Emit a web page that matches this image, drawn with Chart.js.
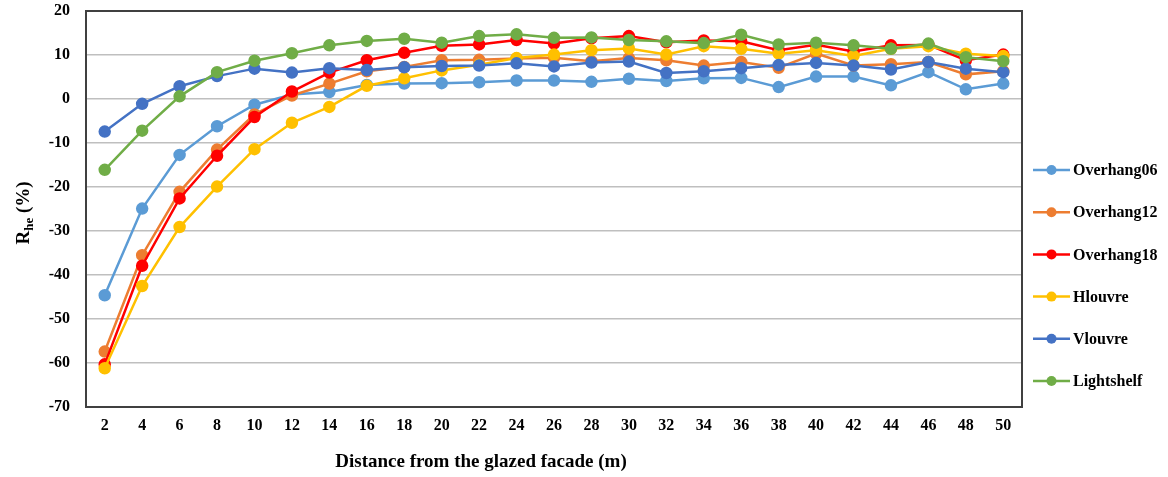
<!DOCTYPE html>
<html>
<head>
<meta charset="utf-8">
<script src="https://cdn.jsdelivr.net/npm/chart.js@4.4.1/dist/chart.umd.min.js"></script>
<style>
  html, body { margin: 0; padding: 0; background: #ffffff; }
  #wrap { width: 1168px; height: 477px; position: relative; }
</style>
</head>
<body>
<div id="wrap"><canvas id="c" width="1168" height="477"></canvas></div>
<script>
const categories = ['2','4','6','8','10','12','14','16','18','20','22','24','26','28','30','32','34','36','38','40','42','44','46','48','50'];
const seriesNames = ['Overhang06','Overhang12','Overhang18','Hlouvre','Vlouvre','Lightshelf'];
const overhang06 = [-44.6,-24.9,-12.7,-6.2,-1.3,1.0,1.6,3.2,3.5,3.6,3.8,4.2,4.2,3.9,4.6,4.1,4.7,4.8,2.7,5.1,5.1,3.1,6.1,2.2,3.5];
const overhang12 = [-57.4,-35.5,-21.1,-11.5,-3.5,0.8,3.5,6.3,7.3,8.8,8.9,9.2,9.4,8.6,9.3,8.8,7.6,8.4,7.1,10.3,7.6,7.9,8.4,5.6,6.3];
const overhang18 = [-60.3,-37.9,-22.6,-12.9,-4.1,1.7,6.0,8.8,10.5,12.1,12.4,13.4,12.6,13.8,14.3,12.9,13.3,13.1,11.1,12.3,10.8,12.2,12.3,8.8,10.1];
const hlouvre    = [-61.2,-42.5,-29.1,-19.9,-11.4,-5.4,-1.8,3.0,4.7,6.5,7.8,9.3,10.1,11.1,11.5,10.1,12.0,11.4,10.3,11.1,9.8,11.4,12.0,10.3,9.8];
const vlouvre    = [-7.4,-1.1,2.9,5.2,6.9,6.0,7.0,6.6,7.2,7.5,7.6,8.1,7.4,8.3,8.5,5.9,6.3,7.0,7.7,8.2,7.6,6.7,8.4,6.9,6.1];
const lightshelf = [-16.1,-7.2,0.6,6.1,8.7,10.4,12.2,13.2,13.7,12.8,14.3,14.7,13.9,14.0,13.4,13.1,12.7,14.6,12.4,12.8,12.2,11.4,12.6,9.5,8.6];
const yTicks = [20,10,0,-10,-20,-30,-40,-50,-60,-70];
const xTitle = 'Distance from the glazed facade (m)';

const colors = ['#5B9BD5','#ED7D31','#FF0000','#FFC000','#4472C4','#70AD47'];
const allData = [overhang06, overhang12, overhang18, hlouvre, vlouvre, lightshelf];
const SERIF = '"Liberation Serif", "Times New Roman", serif';

const datasets = allData.map((d, i) => ({
  label: seriesNames[i],
  data: d,
  borderColor: colors[i],
  backgroundColor: colors[i],
  pointBackgroundColor: colors[i],
  pointBorderColor: colors[i],
  borderWidth: 2.5,
  pointRadius: 5,
  pointHoverRadius: 5,
  tension: 0,
  order: 6 - i
}));

const decorPlugin = {
  id: 'decor',
  beforeDatasetsDraw(chart) {
    const a = chart.chartArea, ctx = chart.ctx;
    ctx.save();
    ctx.strokeStyle = '#404040';
    ctx.lineWidth = 2;
    ctx.strokeRect(a.left, a.top, a.right - a.left, a.bottom - a.top);
    ctx.restore();
  },
  afterDraw(chart) {
    const ctx = chart.ctx;
    ctx.save();
    ctx.translate(22, 213);
    ctx.rotate(-Math.PI / 2);
    ctx.fillStyle = '#000';
    ctx.textBaseline = 'alphabetic';
    const big = 'bold 19px ' + SERIF, small = 'bold 13px ' + SERIF;
    ctx.font = big; const wR = ctx.measureText('R').width;
    ctx.font = small; const wS = ctx.measureText('he').width;
    ctx.font = big; const wP = ctx.measureText(' (%)').width;
    let x = -(wR + wS + wP) / 2;
    const base = 7;
    ctx.font = big; ctx.fillText('R', x, base); x += wR;
    ctx.font = small; ctx.fillText('he', x, base + 4); x += wS;
    ctx.font = big; ctx.fillText(' (%)', x, base);
    ctx.restore();

    ctx.save();
    ctx.fillStyle = '#000';
    ctx.font = 'bold 19px ' + SERIF;
    ctx.textAlign = 'center';
    ctx.textBaseline = 'middle';
    ctx.fillText(xTitle, 481, 462);
    ctx.restore();

    ctx.save();
    const y0 = 170, dy = 42.2;
    chart.data.datasets.forEach((ds, i) => {
      const y = y0 + i * dy;
      ctx.strokeStyle = ds.borderColor;
      ctx.lineWidth = 2.5;
      ctx.beginPath(); ctx.moveTo(1033, y); ctx.lineTo(1070, y); ctx.stroke();
      ctx.fillStyle = ds.borderColor;
      ctx.beginPath(); ctx.arc(1051.5, y, 5, 0, Math.PI * 2); ctx.fill();
      ctx.fillStyle = '#000';
      ctx.font = 'bold 16px ' + SERIF;
      ctx.textAlign = 'left';
      ctx.textBaseline = 'middle';
      ctx.fillText(ds.label, 1073, y + 1);
    });
    ctx.restore();
  }
};

new Chart(document.getElementById('c'), {
  type: 'line',
  data: { labels: categories, datasets: datasets },
  options: {
    responsive: false,
    animation: false,
    devicePixelRatio: 1,
    layout: { padding: { left: 0, top: 11, right: 146, bottom: 0 } },
    plugins: { legend: { display: false }, tooltip: { enabled: false } },
    scales: {
      x: {
        offset: true,
        grid: { display: false, drawTicks: false },
        border: { display: false },
        ticks: { color: '#000', font: { family: SERIF, size: 16, weight: 'bold' }, padding: 9, maxRotation: 0, autoSkip: false },
        afterFit(s) { s.height = 70; }
      },
      y: {
        min: -70, max: 20,
        afterBuildTicks(s) { s.ticks = yTicks.map(v => ({ value: v })); },
        grid: {
          drawTicks: false,
          color: ctx => (ctx.tick && (ctx.tick.value === 20 || ctx.tick.value === -70)) ? 'rgba(0,0,0,0)' : '#BFBFBF',
          lineWidth: 1.5
        },
        border: { display: false },
        ticks: { color: '#000', font: { family: SERIF, size: 16, weight: 'bold' }, padding: 16, stepSize: 10 },
        afterFit(s) { s.width = 86; s.paddingTop = 8; s.paddingBottom = 8; }
      }
    }
  },
  plugins: [decorPlugin]
});
</script>
</body>
</html>
